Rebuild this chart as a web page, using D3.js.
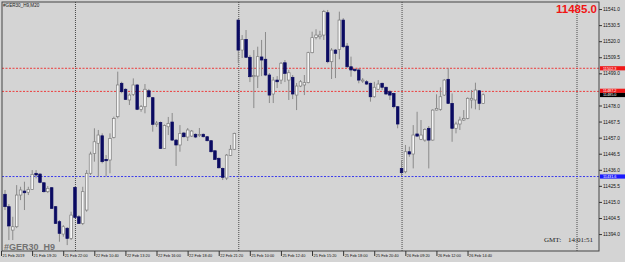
<!DOCTYPE html>
<html>
<head>
<meta charset="utf-8">
<script src="https://cdn.jsdelivr.net/npm/d3@7"></script>
<style>
  html, body { margin: 0; padding: 0; background: #d4d4d4; }
  svg { display: block; }
</style>
</head>
<body>
<svg id="chart" width="625" height="262"></svg>
<script>
// GER30 M20 bars, oldest first
const opens = [
  11420.0, 11411.9, 11396.6, 11398.8, 11419.5, 11422.1, 11421.3, 11423.2, 11433.7, 11433.2,
  11427.5, 11421.7, 11424.3, 11411.9, 11402.1, 11394.0, 11397.8, 11391.2, 11424.5, 11405.3,
  11401.0, 11409.7, 11433.7, 11446.7, 11453.3, 11458.2, 11442.8, 11442.4, 11457.2, 11470.7,
  11492.5, 11488.6, 11481.6, 11485.3, 11491.4, 11475.5, 11477.2, 11487.6, 11483.1, 11465.7,
  11466.9, 11450.0, 11464.1, 11467.2, 11455.4, 11452.2, 11460.0, 11457.4, 11458.0, 11459.2,
  11458.4, 11459.2, 11457.6, 11455.0, 11448.4, 11443.5, 11436.9, 11430.6, 11445.4, 11449.4,
  11533.8, 11514.2, 11521.2, 11509.5, 11496.8, 11497.2, 11509.7, 11508.2, 11497.9, 11485.5,
  11494.6, 11494.6, 11505.9, 11494.6, 11496.4, 11484.8, 11490.7, 11491.4, 11492.9, 11512.5,
  11522.5, 11522.9, 11524.0, 11538.6, 11506.6, 11514.2, 11514.7, 11533.8, 11516.8, 11503.3,
  11501.5, 11501.2, 11494.0, 11493.5, 11492.5, 11483.7, 11488.6, 11492.5, 11489.9, 11487.0,
  11485.9, 11477.2, 11436.9, 11434.7, 11447.8, 11446.3, 11459.4, 11455.9, 11455.4, 11463.1,
  11455.4, 11475.0, 11475.5, 11484.8, 11495.1, 11479.4, 11463.1, 11465.9, 11468.5, 11469.6,
  11481.6, 11481.6, 11487.6, 11479.4
];
const highs = [
  11422.8, 11413.6, 11405.3, 11426.0, 11424.9, 11428.2, 11424.9, 11435.8, 11435.8, 11433.9,
  11428.0, 11425.4, 11424.7, 11412.3, 11403.2, 11399.9, 11398.6, 11408.6, 11425.1, 11406.4,
  11424.9, 11435.8, 11447.8, 11463.1, 11462.0, 11459.8, 11445.6, 11459.8, 11470.7, 11500.1,
  11493.5, 11489.2, 11485.9, 11495.7, 11492.0, 11478.3, 11492.0, 11488.8, 11483.5, 11467.9,
  11467.5, 11465.6, 11470.5, 11473.1, 11456.1, 11465.2, 11460.7, 11463.3, 11462.0, 11459.7,
  11463.3, 11459.7, 11458.0, 11455.4, 11448.9, 11444.0, 11437.5, 11446.3, 11452.2, 11460.2,
  11534.5, 11524.0, 11527.3, 11511.0, 11514.2, 11516.4, 11520.8, 11526.0, 11499.2, 11496.6,
  11497.2, 11506.4, 11507.7, 11501.2, 11497.9, 11492.7, 11494.6, 11497.9, 11513.1, 11526.2,
  11527.8, 11526.8, 11540.4, 11540.4, 11515.5, 11514.9, 11539.3, 11535.1, 11518.8, 11509.9,
  11502.5, 11502.5, 11495.9, 11494.6, 11492.9, 11493.5, 11494.6, 11492.9, 11490.3, 11488.1,
  11486.3, 11477.6, 11442.4, 11452.2, 11451.1, 11465.2, 11473.9, 11468.5, 11463.1, 11464.6,
  11475.5, 11485.3, 11489.9, 11495.3, 11502.3, 11485.9, 11467.4, 11470.7, 11475.0, 11483.3,
  11488.1, 11492.9, 11488.1, 11485.9
];
const lows = [
  11409.7, 11390.1, 11390.1, 11397.9, 11416.2, 11409.7, 11419.5, 11422.8, 11430.4, 11427.2,
  11421.1, 11420.8, 11410.4, 11400.6, 11389.0, 11392.3, 11386.8, 11390.1, 11404.5, 11400.6,
  11399.9, 11408.6, 11432.6, 11441.3, 11431.5, 11440.2, 11431.5, 11433.7, 11456.5, 11469.6,
  11486.0, 11481.6, 11478.3, 11484.2, 11475.0, 11473.9, 11472.9, 11483.2, 11460.9, 11464.0,
  11449.6, 11449.6, 11458.7, 11454.8, 11438.5, 11447.8, 11457.1, 11454.8, 11457.4, 11456.7,
  11457.4, 11457.1, 11454.5, 11447.3, 11442.4, 11436.9, 11429.3, 11429.3, 11445.0, 11448.9,
  11505.6, 11509.0, 11509.0, 11493.3, 11476.3, 11489.4, 11497.2, 11497.2, 11479.6, 11479.6,
  11489.4, 11492.0, 11493.3, 11481.6, 11482.2, 11475.0, 11490.0, 11484.8, 11492.5, 11512.1,
  11521.2, 11521.2, 11520.8, 11505.6, 11495.3, 11495.9, 11508.2, 11515.5, 11502.5, 11496.8,
  11499.9, 11492.5, 11492.7, 11491.4, 11480.5, 11483.1, 11488.1, 11488.1, 11485.0, 11481.6,
  11476.1, 11463.1, 11431.9, 11433.7, 11444.5, 11436.9, 11457.6, 11455.4, 11454.3, 11436.9,
  11455.0, 11474.7, 11474.6, 11484.2, 11479.0, 11454.3, 11459.8, 11462.0, 11467.9, 11469.0,
  11476.1, 11475.5, 11475.0, 11479.0
];
const closes = [
  11411.9, 11399.3, 11398.8, 11419.5, 11422.8, 11421.0, 11423.2, 11433.0, 11432.6, 11427.8,
  11421.7, 11423.9, 11410.8, 11401.0, 11394.5, 11398.8, 11391.2, 11406.4, 11404.9, 11401.0,
  11421.7, 11433.7, 11446.3, 11454.3, 11458.7, 11441.3, 11441.9, 11456.5, 11469.6, 11491.4,
  11487.0, 11482.0, 11484.8, 11491.4, 11475.5, 11477.2, 11488.6, 11483.7, 11465.7, 11466.5,
  11450.0, 11464.9, 11466.3, 11455.4, 11452.2, 11459.8, 11457.6, 11462.0, 11461.3, 11457.4,
  11459.0, 11457.6, 11455.0, 11447.8, 11442.8, 11437.3, 11431.1, 11445.6, 11449.4, 11459.8,
  11514.2, 11521.2, 11509.5, 11496.8, 11497.6, 11509.9, 11507.7, 11497.9, 11484.8, 11494.6,
  11493.5, 11505.6, 11499.0, 11499.4, 11485.5, 11490.7, 11493.5, 11492.9, 11512.5, 11522.3,
  11524.0, 11524.0, 11539.3, 11506.6, 11514.2, 11512.1, 11533.8, 11516.4, 11503.3, 11501.2,
  11500.8, 11494.6, 11494.6, 11492.0, 11483.7, 11489.9, 11492.0, 11489.9, 11485.5, 11484.8,
  11477.2, 11465.9, 11434.1, 11447.8, 11446.3, 11458.7, 11458.0, 11458.7, 11462.4, 11455.4,
  11475.0, 11476.1, 11483.7, 11494.6, 11479.4, 11463.1, 11465.9, 11468.5, 11469.6, 11482.7,
  11482.7, 11488.1, 11479.4, 11485.0
];

// time axis labels, one every 8 bars
const timeBars = [0, 8, 16, 24, 32, 40, 48, 56, 64, 72, 80, 88, 96, 104, 112, 120];
const timeLabels = [
  '21 Feb 2019', '21 Feb 19:20', '21 Feb 22:00', '22 Feb 10:40', '22 Feb 13:20',
  '22 Feb 16:00', '22 Feb 18:40', '22 Feb 21:20', '25 Feb 10:00', '25 Feb 12:40',
  '25 Feb 15:20', '25 Feb 18:00', '25 Feb 20:40', '26 Feb 09:20', '26 Feb 12:00',
  '26 Feb 14:40'
];
// 11488.5 sits under the red price box and is not visible, so it is left out
const priceTicks = [11541.0, 11530.5, 11520.0, 11509.5, 11499.0, 11478.0, 11467.5,
  11457.0, 11446.5, 11436.0, 11425.5, 11415.0, 11404.5, 11394.0];

// day separators and drawn levels
const separatorBars = [18, 60, 102, 147];
const redLevels = [11502.3, 11487.2];
const blueLevels = [11431.6];
const bidPrice = 11485.0;
const symbolName = '#GER30_H9';
const clockText = '14:01:51';

const W = 625, H = 262;
const plotL = 2, plotT = 2, plotR = 599, plotB = 251;

const svg = d3.select('#chart');
const font = "'Liberation Sans', Arial, sans-serif";

const x = d3.scaleLinear().domain([0, 123]).range([5, 483.2]);
const xLabel = d3.scaleLinear().domain(x.domain()).range(x.range().map(v => v - 4));
const y = d3.scaleLinear().domain([11383.6, 11545.6]).range([250, 2]);

svg.append('rect')
  .attr('width', W).attr('height', H)
  .attr('fill', '#d4d4d4');

// day separators
svg.append('g')
  .selectAll('line')
  .data(separatorBars)
  .join('line')
  .attr('x1', d => x(d) + 0.5).attr('x2', d => x(d) + 0.5)
  .attr('y1', plotT).attr('y2', plotB)
  .attr('stroke', '#4a4a4a')
  .attr('stroke-width', 1)
  .attr('stroke-dasharray', '1,1');

// horizontal levels
const levels = redLevels.map(v => ({ v, c: '#ee2a2a' }))
  .concat(blueLevels.map(v => ({ v, c: '#2a2aee' })));
svg.append('g')
  .selectAll('line')
  .data(levels)
  .join('line')
  .attr('x1', plotL).attr('x2', plotR)
  .attr('y1', d => y(d.v)).attr('y2', d => y(d.v))
  .attr('stroke', d => d.c)
  .attr('stroke-width', 0.9)
  .attr('stroke-dasharray', '2,1.5');

// candles
const bars = opens.map((o, i) => ({ i, o, h: highs[i], l: lows[i], c: closes[i] }));
const candles = svg.append('g');
candles.selectAll('line')
  .data(bars)
  .join('line')
  .attr('x1', d => x(d.i)).attr('x2', d => x(d.i))
  .attr('y1', d => y(d.h)).attr('y2', d => y(d.l))
  .attr('stroke', '#8a8a8a')
  .attr('stroke-width', 1);
candles.selectAll('rect')
  .data(bars)
  .join('rect')
  .attr('x', d => x(d.i) - 1.3)
  .attr('width', 2.6)
  .attr('y', d => y(Math.max(d.o, d.c)))
  .attr('height', d => Math.max(1, Math.abs(y(d.o) - y(d.c))))
  .attr('fill', d => d.c >= d.o ? '#f6f6f6' : '#0b0b62')
  .attr('stroke', d => d.c >= d.o ? '#7c7c7c' : '#0b0b62')
  .attr('stroke-width', 0.7);

// frame
svg.append('rect')
  .attr('x', plotL).attr('y', plotT)
  .attr('width', plotR - plotL).attr('height', plotB - plotT)
  .attr('fill', 'none')
  .attr('stroke', '#454545')
  .attr('stroke-width', 1);

// price axis
const yAxis = svg.append('g')
  .attr('transform', `translate(${plotR},0)`)
  .call(d3.axisRight(y).tickValues(priceTicks).tickSize(3).tickPadding(1)
    .tickFormat(d3.format('.1f')));
yAxis.select('.domain').remove();
yAxis.selectAll('line').attr('stroke', '#333');
yAxis.selectAll('text')
  .attr('font-family', font).attr('font-size', 4.8).attr('fill', '#111');

// time axis
const xAxis = svg.append('g')
  .attr('transform', `translate(0,${plotB})`)
  .call(d3.axisBottom(xLabel).tickValues(timeBars).tickSize(5)
    .tickFormat((d, k) => timeLabels[k]));
xAxis.select('.domain').remove();
xAxis.selectAll('line').attr('stroke', '#333');
xAxis.selectAll('text')
  .attr('font-family', font).attr('font-size', 3.9).attr('fill', '#111')
  .attr('text-anchor', 'start')
  .attr('x', 1).attr('y', 3).attr('dy', '0.71em');

// price boxes on the right (bid box sits just under the lower red box)
const boxes = [
  { v: redLevels[0], c: '#f01818', cy: y(redLevels[0]) },
  { v: redLevels[1], c: '#f01818', cy: y(redLevels[1]) - 0.6 },
  { v: bidPrice, c: '#000000', cy: y(redLevels[1]) + 3.6 },
  { v: blueLevels[0], c: '#1a1aff', cy: y(blueLevels[0]) }
];
const boxG = svg.append('g');
boxG.selectAll('rect')
  .data(boxes)
  .join('rect')
  .attr('x', plotR + 1).attr('width', W - plotR - 1)
  .attr('y', d => d.cy - 2.1).attr('height', 4.2)
  .attr('fill', d => d.c);
boxG.selectAll('text')
  .data(boxes)
  .join('text')
  .attr('x', plotR + 4)
  .attr('y', d => d.cy + 1.35)
  .attr('font-family', font).attr('font-size', 3.8)
  .attr('fill', '#fff')
  .text(d => d3.format('.1f')(d.v));

// captions
svg.append('text')
  .attr('x', 3).attr('y', 7.3)
  .attr('font-family', font).attr('font-size', 4.6).attr('fill', '#222')
  .text(symbolName + ',M20');

svg.append('text')
  .attr('x', 597).attr('y', 13)
  .attr('text-anchor', 'end')
  .attr('font-family', font).attr('font-size', 11.5).attr('font-weight', 'bold')
  .attr('fill', '#f01414')
  .text(d3.format('.1f')(closes[closes.length - 1]));

svg.append('text')
  .attr('x', 4).attr('y', 249.5)
  .attr('font-family', font).attr('font-size', 9).attr('font-weight', 'bold')
  .attr('fill', '#727272')
  .text(symbolName);

const serif = "'Liberation Serif', 'Times New Roman', serif";
svg.append('text')
  .attr('x', 544).attr('y', 242)
  .attr('font-family', serif).attr('font-size', 7).attr('fill', '#222')
  .text('GMT:');
svg.append('text')
  .attr('x', 568).attr('y', 242)
  .attr('font-family', serif).attr('font-size', 7).attr('fill', '#222')
  .text(clockText);
</script>
</body>
</html>
